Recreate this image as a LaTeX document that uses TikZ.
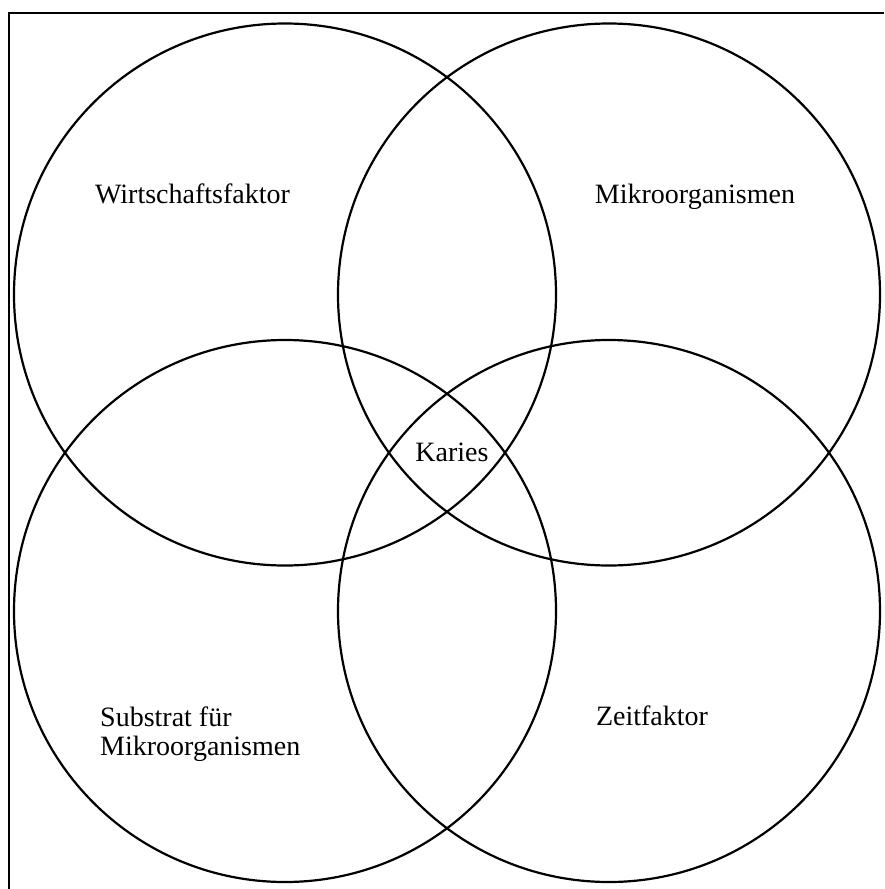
\documentclass[tikz,border=0pt]{standalone}
\usepackage{fontspec}
\setmainfont{Liberation Serif}
\usetikzlibrary{positioning}

\begin{document}
\begin{tikzpicture}[x=1pt,y=-1pt]
      \tikzset{venn/.style={draw, circle, line width=2.2pt, inner sep=0pt, minimum size=542pt}};
      \tikzset{vlabel/.style={font=\fontsize{28}{29}\selectfont, anchor=base, inner sep=0pt}};
      \useasboundingbox (0,0) rectangle (884,889);

      % Rahmen
      \draw[line width=2.6pt] (9,889) -- (9,13) -- (884,13);

      % Kreise
      \node[venn] (wirt) at (285,294.5) {};
      \node[venn] (mikro) at (609,294.5) {};
      \node[venn] (subst) at (285,611) {};
      \node[venn] (zeit) at (609,611) {};

      % Beschriftungen
      \node[vlabel] (wirtL) at (192.5,203) {Wirtschaftsfaktor};
      \node[vlabel] (mikroL) at (695,203) {Mikroorganismen};
      \node[vlabel] (karies) at (452,461) {Karies};
      \node[vlabel, anchor=base west, align=left] (substL) at (100,755) {Substrat für\\Mikroorganismen};
      \node[vlabel] (zeitL) at (652,725) {Zeitfaktor};
\end{tikzpicture}
\end{document}
